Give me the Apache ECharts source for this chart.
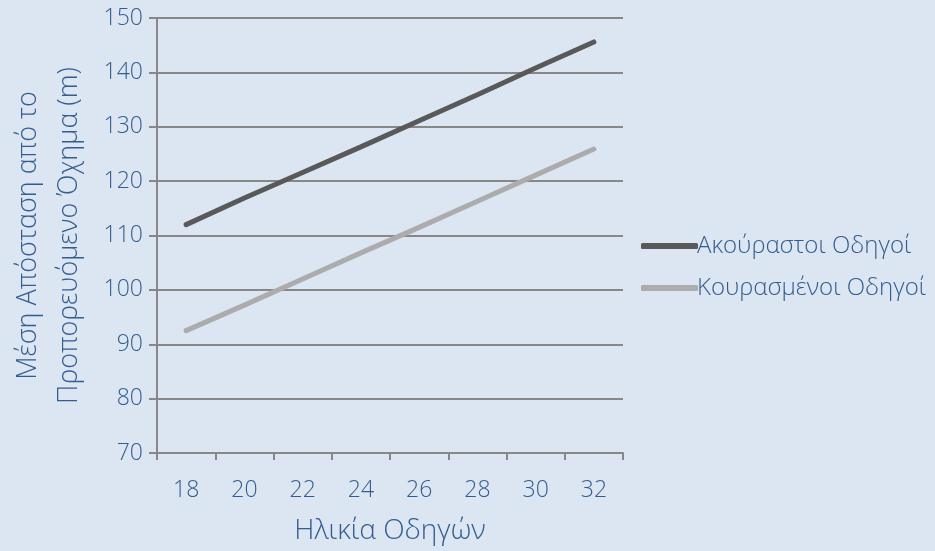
<!DOCTYPE html>
<html>
<head>
<meta charset="utf-8">
<script src="https://cdn.jsdelivr.net/npm/echarts@6/dist/echarts.min.js"></script>
<style>
  html, body { margin: 0; padding: 0; background: #dce6f2; }
  #chart { width: 935px; height: 551px; }
</style>
</head>
<body>
<div id="chart"></div>
<script>
// Driver age groups on the x axis
const ages = ['18', '20', '22', '24', '26', '28', '30', '32'];
// Mean headway distance (m) per age group
const restedDrivers = [112.0, 116.9, 121.6, 126.3, 131.1, 135.9, 140.8, 145.6];
const tiredDrivers  = [92.5, 97.2, 102.0, 106.8, 111.5, 116.3, 121.1, 125.9];
const seriesNames = ['Ακούραστοι Οδηγοί', 'Κουρασμένοι Οδηγοί'];

const textColor = '#335d90';
const gridColor = '#878787';
const font = '"Open Sans", "Noto Sans", sans-serif';

const chart = echarts.init(document.getElementById('chart'), null, { renderer: 'canvas' });
chart.setOption({
  backgroundColor: '#dce6f2',
  animation: false,
  textStyle: { fontFamily: font, fontWeight: 300 },
  grid: { left: 157, right: 312, top: 18, bottom: 98, containLabel: false, outerBoundsMode: 'none' },
  legend: {
    orient: 'vertical',
    left: 636,
    top: 226,
    itemGap: 12,
    itemWidth: 57,
    itemHeight: 6,
    icon: 'roundRect',
    textStyle: { color: textColor, fontSize: 24, lineHeight: 30, fontFamily: font, fontWeight: 300, padding: [0, 0, 0, -6] },
    data: seriesNames
  },
  xAxis: {
    type: 'category',
    data: ages,
    boundaryGap: true,
    name: 'Ηλικία Οδηγών',
    nameLocation: 'middle',
    nameGap: 64,
    nameTextStyle: { color: textColor, fontSize: 28, fontFamily: font, fontWeight: 300 },
    axisLine: { lineStyle: { color: gridColor, width: 2 } },
    axisTick: { show: true, length: 7, lineStyle: { color: gridColor, width: 2 } },
    axisLabel: { color: textColor, fontSize: 23, margin: 26, fontFamily: font, fontWeight: 300 }
  },
  yAxis: {
    type: 'value',
    min: 70,
    max: 150,
    interval: 10,
    name: 'Μέση Απόσταση από το\nΠροπορευόμενο Όχημα (m)',
    nameLocation: 'middle',
    nameRotate: 90,
    nameGap: 67,
    nameTextStyle: { color: textColor, fontSize: 27, lineHeight: 41, fontFamily: font, fontWeight: 300 },
    axisLine: { show: true, lineStyle: { color: gridColor, width: 2 } },
    axisTick: { show: true, length: 8, lineStyle: { color: gridColor, width: 2 } },
    axisLabel: { color: textColor, fontSize: 23, margin: 14, fontFamily: font, fontWeight: 300 },
    splitLine: { show: true, lineStyle: { color: gridColor, width: 2 } }
  },
  series: [
    {
      name: seriesNames[0],
      type: 'line',
      data: restedDrivers,
      symbol: 'none',
      lineStyle: { color: '#595959', width: 5, cap: 'round' },
      itemStyle: { color: '#595959' }
    },
    {
      name: seriesNames[1],
      type: 'line',
      data: tiredDrivers,
      symbol: 'none',
      lineStyle: { color: '#acacac', width: 5, cap: 'round' },
      itemStyle: { color: '#acacac' }
    }
  ]
});
</script>
</body>
</html>
